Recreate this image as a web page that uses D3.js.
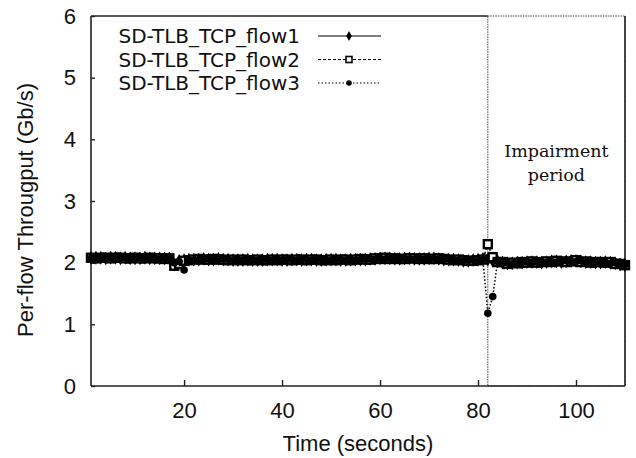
<!DOCTYPE html>
<html>
<head>
<meta charset="utf-8">
<script src="https://cdn.jsdelivr.net/npm/d3@7"></script>
<style>
  body { margin: 0; background: #fff; }
  svg { display: block; }
</style>
</head>
<body>
<script>
// SVG dimensions
const outerWidth = 636, outerHeight = 458;
const margin = {left: 91, right: 11, top: 16, bottom: 72};
const innerWidth = outerWidth - margin.left - margin.right;
const innerHeight = outerHeight - margin.top - margin.bottom;

// Time in seconds, one sample per second
const times = d3.range(1, 111);

// Per-flow throughput (Gb/s)
const flow1 = [
  2.08,2.08,2.08,2.07,2.08,2.08,2.07,2.08,2.07,2.07,
  2.07,2.08,2.07,2.07,2.07,2.07,2.07,1.97,2.03,2.04,
  2.05,2.05,2.05,2.06,2.05,2.05,2.06,2.05,2.05,2.04,
  2.04,2.04,2.05,2.04,2.04,2.04,2.05,2.05,2.05,2.04,
  2.04,2.05,2.05,2.04,2.05,2.05,2.04,2.04,2.05,2.05,
  2.05,2.04,2.04,2.05,2.05,2.05,2.05,2.06,2.06,2.07,
  2.07,2.07,2.06,2.06,2.07,2.07,2.06,2.06,2.06,2.07,
  2.07,2.06,2.05,2.05,2.05,2.04,2.03,2.03,2.04,2.05,
  2.06,2.05,2.03,2.02,2.00,1.99,1.99,2.00,2.00,2.01,
  2.01,2.01,2.00,2.01,2.02,2.02,2.01,2.02,2.03,2.03,
  2.02,2.01,2.01,2.00,2.00,2.01,2.00,1.99,1.97,1.96
];
const flow2 = [
  2.08,2.07,2.08,2.08,2.07,2.08,2.08,2.07,2.07,2.08,
  2.07,2.07,2.08,2.07,2.07,2.06,2.07,1.95,1.98,2.03,
  2.04,2.05,2.06,2.05,2.05,2.06,2.05,2.05,2.04,2.05,
  2.04,2.05,2.04,2.04,2.05,2.04,2.04,2.05,2.04,2.05,
  2.05,2.04,2.05,2.05,2.04,2.05,2.05,2.04,2.04,2.05,
  2.04,2.05,2.05,2.04,2.05,2.06,2.05,2.05,2.07,2.06,
  2.08,2.06,2.07,2.06,2.06,2.07,2.07,2.06,2.07,2.06,
  2.06,2.07,2.06,2.05,2.04,2.05,2.04,2.03,2.03,2.04,
  2.05,2.30,2.09,2.01,2.01,1.98,2.00,1.99,2.01,2.00,
  2.02,2.00,2.01,2.02,2.01,2.03,2.02,2.01,2.02,2.04,
  2.01,2.02,2.00,2.01,2.01,2.00,2.01,1.98,1.98,1.96
];
const flow3 = [
  2.07,2.08,2.07,2.08,2.08,2.07,2.08,2.08,2.07,2.07,
  2.08,2.07,2.07,2.07,2.06,2.07,2.07,2.00,2.02,1.88,
  2.04,2.04,2.05,2.05,2.06,2.05,2.05,2.06,2.05,2.04,
  2.05,2.04,2.04,2.05,2.04,2.05,2.05,2.04,2.05,2.04,
  2.05,2.05,2.04,2.05,2.05,2.04,2.05,2.05,2.04,2.04,
  2.05,2.05,2.04,2.05,2.04,2.05,2.06,2.06,2.06,2.07,
  2.06,2.07,2.07,2.06,2.07,2.06,2.06,2.07,2.06,2.06,
  2.07,2.06,2.05,2.06,2.04,2.04,2.03,2.04,2.04,2.03,
  2.05,1.18,1.45,2.02,2.00,1.99,1.98,2.00,2.01,2.01,
  2.00,2.01,2.01,2.00,2.02,2.01,2.02,2.03,2.02,2.02,
  2.03,2.01,2.00,2.01,2.00,2.00,1.99,2.00,1.97,1.97
];

const seriesNames = ["SD-TLB_TCP_flow1", "SD-TLB_TCP_flow2", "SD-TLB_TCP_flow3"];
const seriesValues = [flow1, flow2, flow3];
const xTicks = [20, 40, 60, 80, 100];
const yTicks = [0, 1, 2, 3, 4, 5, 6];
const impairment = [82, 110];

// Line and marker styles per series
const dashes = [null, "3,2", "1.5,2"];
const markers = ["diamond", "square", "circle"];

const svg = d3.select("body")
  .append("svg")
  .attr("width", outerWidth)
  .attr("height", outerHeight);

const render = svg.append("g")
  .attr("transform", `translate(${margin.left}, ${margin.top})`);

// Scales
const x = d3.scaleLinear().domain([1, 110]).range([0, innerWidth]);
const y = d3.scaleLinear().domain([0, 6]).range([innerHeight, 0]);

const tickFont = "'Liberation Sans', Arial, sans-serif";

// Impairment period box (dotted)
render.append("rect")
  .attr("x", x(impairment[0]))
  .attr("y", 0)
  .attr("width", x(impairment[1]) - x(impairment[0]))
  .attr("height", innerHeight)
  .attr("fill", "none")
  .attr("stroke", "#444")
  .attr("stroke-width", 1)
  .attr("stroke-dasharray", "1.5,1");

const impX = (x(impairment[0]) + x(impairment[1])) / 2;
const impText = render.append("text")
  .attr("text-anchor", "middle")
  .attr("font-family", "'DejaVu Serif', 'Liberation Serif', serif")
  .attr("font-size", 17.5)
  .attr("fill", "#111");
impText.append("tspan").attr("x", impX).attr("y", 141).text("Impairment");
impText.append("tspan").attr("x", impX).attr("y", 165).text("period");

// Axes frame: left, bottom, top, right
const frame = render.append("g").attr("stroke", "#222").attr("stroke-width", 1.6).attr("fill", "none");
frame.append("line").attr("x1", 0).attr("x2", 0).attr("y1", 0).attr("y2", innerHeight);
frame.append("line").attr("x1", 0).attr("x2", innerWidth).attr("y1", innerHeight).attr("y2", innerHeight);
frame.append("line").attr("x1", 0).attr("x2", x(impairment[0])).attr("y1", 0).attr("y2", 0);
frame.append("line").attr("x1", innerWidth).attr("x2", innerWidth).attr("y1", 0).attr("y2", innerHeight);

// Bottom axis, ticks pointing inward
const xAxis = render.append("g")
  .attr("transform", `translate(0, ${innerHeight})`)
  .call(d3.axisBottom(x).tickValues(xTicks).tickSizeInner(-6).tickSizeOuter(0).tickPadding(16))
  .attr("font-family", tickFont)
  .attr("font-size", 22);
xAxis.select(".domain").remove();
xAxis.selectAll("line").attr("stroke", "#222").attr("stroke-width", 1.4);
xAxis.selectAll("text").attr("fill", "#111");

// Left axis, ticks pointing inward
const yAxis = render.append("g")
  .call(d3.axisLeft(y).tickValues(yTicks).tickFormat(d3.format("d"))
    .tickSizeInner(-4).tickSizeOuter(0).tickPadding(15))
  .attr("font-family", tickFont)
  .attr("font-size", 22);
yAxis.select(".domain").remove();
yAxis.selectAll("line").attr("stroke", "#222").attr("stroke-width", 1.4);
yAxis.selectAll("text").attr("fill", "#111");

// Axis titles
svg.append("text")
  .attr("x", margin.left + innerWidth / 2)
  .attr("y", 451)
  .attr("text-anchor", "middle")
  .attr("font-family", tickFont)
  .attr("font-size", 22)
  .attr("fill", "#111")
  .text("Time (seconds)");

svg.append("text")
  .attr("transform", `translate(33, 210) rotate(-90)`)
  .attr("text-anchor", "middle")
  .attr("font-family", tickFont)
  .attr("font-size", 22)
  .attr("fill", "#111")
  .text("Per-flow Througput (Gb/s)");

// Marker drawing helper; big = data markers, small = legend markers
function drawMarker(sel, kind, big) {
  if (kind === "diamond") {
    sel.append("path")
      .attr("d", d3.symbol().type(d3.symbolDiamond).size(big ? 55 : 28))
      .attr("fill", "#000");
  } else if (kind === "square") {
    const s = big ? 8 : 6;
    sel.append("rect")
      .attr("x", -s / 2).attr("y", -s / 2)
      .attr("width", s).attr("height", s)
      .attr("fill", "#fff")
      .attr("stroke", "#000")
      .attr("stroke-width", big ? 2.4 : 1.6);
  } else {
    sel.append("circle")
      .attr("r", big ? 3.8 : 2.8)
      .attr("fill", "#000");
  }
}

// Plot series
const line = d3.line()
  .x((d) => x(d.t))
  .y((d) => y(d.v));

seriesValues.forEach((vals, i) => {
  const data = times.map((t, k) => ({t: t, v: vals[k]}));
  render.append("path")
    .datum(data)
    .attr("fill", "none")
    .attr("stroke", "#000")
    .attr("stroke-width", 1.5)
    .attr("stroke-dasharray", dashes[i])
    .attr("d", line);
  render.selectAll(null)
    .data(data)
    .enter()
    .append("g")
    .attr("transform", (d) => `translate(${x(d.t)}, ${y(d.v)})`)
    .each(function () { drawMarker(d3.select(this), markers[i], true); });
});

// Legend
const legend = svg.append("g");
seriesNames.forEach((name, i) => {
  const cy = 36 + i * 23.5;
  legend.append("text")
    .attr("x", 300)
    .attr("y", cy + 7)
    .attr("text-anchor", "end")
    .attr("font-family", "'DejaVu Sans', Verdana, sans-serif")
    .attr("font-size", 20)
    .attr("fill", "#111")
    .text(name);
  legend.append("line")
    .attr("x1", 318).attr("x2", 381)
    .attr("y1", cy).attr("y2", cy)
    .attr("stroke", "#000")
    .attr("stroke-width", 1.2)
    .attr("stroke-dasharray", dashes[i]);
  const m = legend.append("g").attr("transform", `translate(349, ${cy})`);
  drawMarker(m, markers[i], false);
});
</script>
</body>
</html>
